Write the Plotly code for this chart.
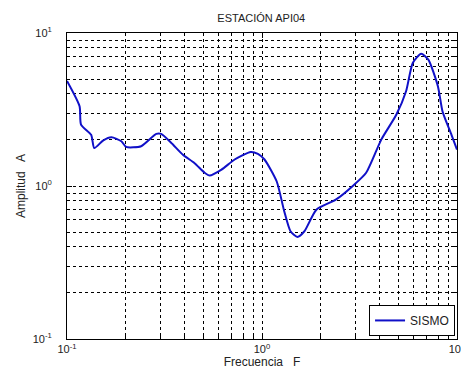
"""Spectral amplitude for station API04."""

import plotly.graph_objects as go

FREQ = [0.1, 0.116, 0.118, 0.133, 0.138, 0.153, 0.169, 0.19, 0.201, 0.24,
        0.287, 0.304, 0.343, 0.393, 0.451, 0.508, 0.539, 0.62, 0.724, 0.875,
        0.953, 1.03, 1.19, 1.3, 1.4, 1.52, 1.65, 1.9, 2.39, 2.97, 3.42,
        4.09, 4.89, 5.48, 5.93, 6.55, 7.13, 7.98, 8.43, 9.37, 10.0]
AMPLITUD = [4.86, 3.32, 2.52, 2.16, 1.77, 1.98, 2.08, 1.96, 1.8, 1.82,
            2.19, 2.19, 1.91, 1.6, 1.41, 1.22, 1.17, 1.28, 1.49, 1.67,
            1.62, 1.49, 1.07, 0.684, 0.506, 0.465, 0.506, 0.7, 0.814, 1.02, 1.22,
            2.01, 2.93, 4.16, 6.37, 7.33, 6.7, 4.49, 3.07, 2.16, 1.73]
MAJOR = [0.1, 1, 10]
MAJOR_TEXT = ["10<sup>-1</sup>", "10<sup>0</sup>", "10<sup>1</sup>"]
MINOR = [0.2, 0.3, 0.4, 0.5, 0.6, 0.7, 0.8, 0.9, 2, 3, 4, 5, 6, 7, 8, 9]

FONT = "Liberation Sans, Arial, sans-serif"


def axis(title, standoff):
    return dict(
        type="log",
        range=[-1, 1],
        tickvals=MAJOR,
        ticktext=MAJOR_TEXT,
        ticks="inside",
        ticklen=5,
        tickcolor="black",
        ticklabelstandoff=standoff,
        showline=True,
        linecolor="black",
        linewidth=1,
        mirror="ticks",
        showgrid=True,
        gridcolor="black",
        gridwidth=1,
        griddash="3px,3px",
        zeroline=False,
        minor=dict(tickvals=MINOR, ticks="inside", ticklen=3, tickcolor="black",
                   showgrid=True, gridcolor="black", gridwidth=1,
                   griddash="3px,3px"),
        title=dict(text=title, font=dict(size=12, color="#222")),
        tickfont=dict(size=11, color="#222"),
    )


fig = go.Figure()
fig.add_trace(go.Scatter(x=FREQ, y=AMPLITUD, mode="lines", name="SISMO",
                         line=dict(color="#1010c8", width=2, shape="spline",
                                   smoothing=0.6)))
fig.update_layout(
    width=469,
    height=374,
    margin=dict(l=59, r=20, t=25, b=43),
    paper_bgcolor="white",
    plot_bgcolor="white",
    font=dict(family=FONT, size=11, color="#222"),
    title=dict(text="ESTACIÓN API04", x=0.54, xanchor="center", y=0.972,
               yanchor="middle", font=dict(size=11)),
    xaxis=axis("Frecuencia   F", 0),
    yaxis=axis("Amplitud   A", 12),
    showlegend=True,
    legend=dict(x=0.995, y=0.01, xanchor="right", yanchor="bottom",
                bgcolor="white", bordercolor="black", borderwidth=1,
                font=dict(size=12)),
)
fig.update_xaxes(title_standoff=0)
fig.update_yaxes(title_standoff=4)

fig.write_html("out.html")
